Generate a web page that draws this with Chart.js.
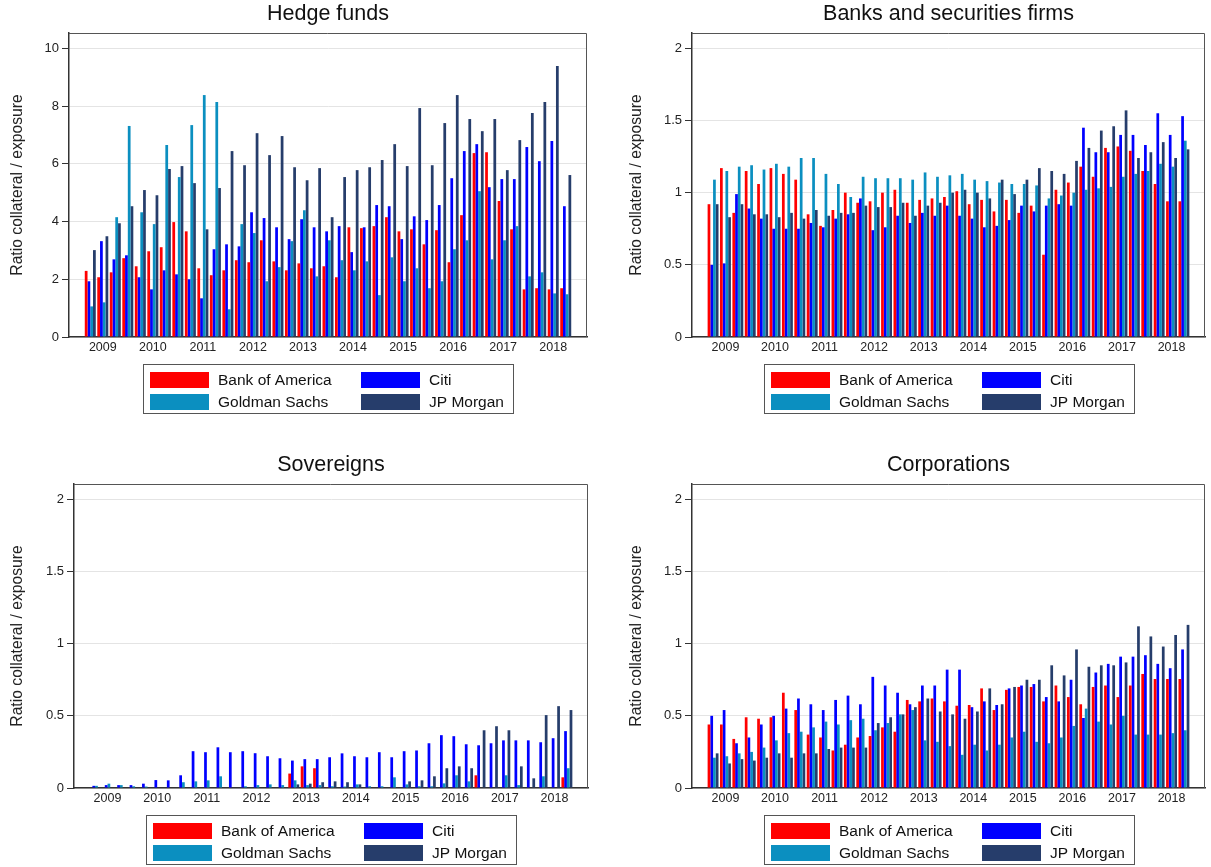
<!DOCTYPE html>
<html>
<head>
<meta charset="utf-8">
<script src="https://cdn.jsdelivr.net/npm/chart.js@4/dist/chart.umd.min.js"></script>
<style>
html,body{margin:0;padding:0;background:#fff;width:1211px;height:867px;overflow:hidden}
.p{position:absolute}
</style>
</head>
<body>
<div class="p" style="left:0;top:0;width:605px;height:451px"><canvas id="c0"></canvas></div>
<div class="p" style="left:605px;top:0;width:606px;height:451px"><canvas id="c1"></canvas></div>
<div class="p" style="left:0;top:451px;width:605px;height:416px"><canvas id="c2"></canvas></div>
<div class="p" style="left:605px;top:451px;width:606px;height:416px"><canvas id="c3"></canvas></div>
<script>
// ---------- DATA ----------
const quarters = ['2008q4','2009q1','2009q2','2009q3','2009q4','2010q1','2010q2','2010q3','2010q4',
  '2011q1','2011q2','2011q3','2011q4','2012q1','2012q2','2012q3','2012q4','2013q1','2013q2','2013q3','2013q4',
  '2014q1','2014q2','2014q3','2014q4','2015q1','2015q2','2015q3','2015q4','2016q1','2016q2','2016q3','2016q4',
  '2017q1','2017q2','2017q3','2017q4','2018q1','2018q2'];
const seriesNames = ['Bank of America','Citi','Goldman Sachs','JP Morgan'];
const panelTitles = ['Hedge funds','Banks and securities firms','Sovereigns','Corporations'];
const yAxisTitle = 'Ratio collateral / exposure';
const hedgeTicks = [0,2,4,6,8,10];
const ratioTicks = [0,0.5,1,1.5,2];

// Hedge funds
const hfBoA  = [2.29,2.07,2.24,2.73,2.45,2.97,3.11,3.98,3.66,2.38,2.14,2.31,2.66,2.59,3.35,2.62,2.31,2.55,2.38,2.45,2.07,3.80,3.77,3.84,4.15,3.66,3.73,3.21,3.70,2.59,4.22,6.37,6.40,4.71,3.73,1.65,1.69,1.65,1.69];
const hfCiti = [1.93,3.32,2.69,2.83,2.07,1.65,2.31,2.17,2.00,1.34,3.04,3.21,3.14,4.32,4.12,3.80,3.39,4.08,3.80,3.66,3.84,2.94,3.80,4.57,4.53,3.39,4.18,4.05,4.57,5.50,6.44,6.68,5.19,5.47,5.47,6.58,6.09,6.79,4.53];
const hfGS   = [1.06,1.20,4.15,7.31,4.32,3.91,6.65,5.54,7.34,8.38,8.14,0.96,3.91,3.60,1.93,2.42,3.32,4.39,2.10,3.35,2.66,2.31,2.62,1.45,2.76,1.93,2.38,1.69,1.93,3.04,3.35,5.05,2.69,3.35,3.84,2.10,2.24,1.51,1.48];
const hfJPM  = [3.01,3.49,3.94,4.53,5.09,4.91,5.82,5.92,5.33,3.73,5.16,6.44,5.95,7.06,6.30,6.96,5.88,5.43,5.85,4.15,5.54,5.78,5.88,6.13,6.68,5.92,7.93,5.95,7.41,8.38,7.55,7.13,7.55,5.78,6.82,7.76,8.14,9.39,5.61];

// Banks and securities firms
const bkBoA  = [0.92,1.17,0.86,1.15,1.06,1.17,1.13,1.09,0.85,0.77,0.88,1.00,0.93,0.94,1.00,1.02,0.93,0.95,0.96,0.97,1.01,0.92,0.95,0.87,0.95,0.86,0.91,0.57,1.02,1.07,1.18,1.11,1.31,1.32,1.29,1.15,1.06,0.94,0.94];
const bkCiti = [0.50,0.51,0.99,0.89,0.82,0.75,0.75,0.75,0.79,0.76,0.82,0.85,0.96,0.74,0.76,0.84,0.79,0.86,0.84,0.91,0.84,0.82,0.76,0.77,0.81,0.91,0.87,0.91,0.92,0.91,1.45,1.28,1.28,1.40,1.40,1.33,1.55,1.40,1.53];
const bkGS   = [1.09,1.15,1.18,1.19,1.16,1.20,1.18,1.24,1.24,1.13,1.06,0.97,1.11,1.10,1.10,1.10,1.09,1.14,1.11,1.12,1.13,1.09,1.08,1.07,1.06,1.06,1.05,0.96,0.98,1.00,1.02,1.03,1.04,1.11,1.13,1.15,1.20,1.18,1.36];
const bkJPM  = [0.92,0.83,0.92,0.85,0.85,0.83,0.86,0.82,0.88,0.84,0.86,0.86,0.91,0.90,0.90,0.93,0.84,0.91,0.93,1.00,1.02,1.00,0.96,1.09,0.99,1.09,1.17,1.15,1.13,1.22,1.31,1.43,1.46,1.57,1.24,1.28,1.35,1.24,1.30];

// Sovereigns
const svBoA  = [0,0,0,0,0,0,0,0,0,0,0,0,0,0,0,0,0.10,0.15,0.137,0.005,0,0,0,0,0,0,0,0,0,0,0,0.088,0,0,0,0,0,0,0.074];
const svCiti = [0.015,0.02,0.02,0.02,0.03,0.055,0.053,0.088,0.255,0.248,0.282,0.248,0.255,0.241,0.22,0.206,0.19,0.20,0.20,0.213,0.24,0.22,0.213,0.248,0.213,0.255,0.26,0.31,0.366,0.359,0.303,0.296,0.31,0.33,0.33,0.33,0.317,0.345,0.394];
const svGS   = [0.015,0.03,0.02,0.012,0.01,0,0,0.04,0.046,0.053,0.081,0,0.012,0.02,0.025,0.02,0.053,0.02,0.02,0.012,0.01,0.025,0.012,0.012,0.074,0.025,0.012,0.012,0.032,0.088,0.046,0,0,0.088,0.02,0,0.081,0,0.137];
const svJPM  = [0,0,0,0,0,0,0,0,0,0,0,0,0,0,0,0,0.025,0.03,0.04,0.046,0.04,0.025,0,0,0,0.046,0.053,0.081,0.137,0.15,0.137,0.40,0.428,0.40,0.15,0.067,0.505,0.567,0.54];

// Corporations
const cpBoA  = [0.44,0.44,0.34,0.49,0.48,0.49,0.66,0.54,0.37,0.35,0.26,0.30,0.35,0.36,0.42,0.39,0.61,0.60,0.62,0.60,0.57,0.575,0.69,0.54,0.68,0.70,0.70,0.60,0.71,0.63,0.58,0.70,0.71,0.63,0.71,0.79,0.755,0.755,0.755];
const cpCiti = [0.50,0.54,0.31,0.35,0.44,0.50,0.55,0.62,0.58,0.54,0.61,0.64,0.58,0.77,0.71,0.66,0.58,0.71,0.71,0.82,0.82,0.56,0.60,0.575,0.69,0.71,0.72,0.63,0.60,0.75,0.485,0.80,0.86,0.91,0.91,0.92,0.86,0.83,0.96];
const cpGS   = [0.21,0.22,0.24,0.25,0.28,0.33,0.38,0.39,0.42,0.46,0.44,0.47,0.48,0.40,0.45,0.51,0.54,0.33,0.32,0.29,0.23,0.30,0.26,0.30,0.35,0.39,0.32,0.31,0.35,0.43,0.55,0.46,0.44,0.50,0.37,0.37,0.37,0.38,0.40];
const cpJPM  = [0.24,0.17,0.20,0.19,0.21,0.24,0.21,0.24,0.24,0.27,0.28,0.28,0.28,0.45,0.49,0.51,0.56,0.62,0.53,0.51,0.48,0.53,0.69,0.58,0.70,0.75,0.75,0.85,0.78,0.96,0.84,0.85,0.85,0.87,1.12,1.05,0.98,1.06,1.13];

// ---------- STYLE ----------
const colors = ['#ff0000','#0000ff','#0b8fc0','#263d6b'];
const FONT = '"Liberation Sans", Arial, Helvetica, sans-serif';
Chart.defaults.font.family = FONT;
Chart.defaults.color = '#222';

const frameLegend = {
  id: 'frameLegend',
  afterDatasetsDraw(chart) {
    const {ctx, chartArea: a} = chart;
    ctx.save();
    ctx.strokeStyle = '#555';
    ctx.lineWidth = 1;
    ctx.beginPath();
    ctx.moveTo(a.left, Math.round(a.top) + 0.5);
    ctx.lineTo(Math.round(a.right) - 0.5, Math.round(a.top) + 0.5);
    ctx.lineTo(Math.round(a.right) - 0.5, a.bottom);
    ctx.stroke();
    ctx.restore();
  },
  afterDraw(chart) {
    const {ctx, chartArea: a} = chart;
    const w = 370, h = 49;
    const x0 = Math.round((a.left + a.right) / 2 - w / 2) + 0.5;
    const y0 = Math.round(a.bottom) + 27 + 0.5;
    ctx.save();
    ctx.strokeStyle = '#555';
    ctx.lineWidth = 1;
    ctx.strokeRect(x0, y0, w, h);
    ctx.font = '15.5px ' + FONT;
    ctx.textBaseline = 'middle';
    ctx.textAlign = 'left';
    chart.data.datasets.forEach((ds, i) => {
      const col = i % 2, row = Math.floor(i / 2);
      const sx = Math.round(x0 + 6 + col * 211), sy = Math.round(y0 + 7 + row * 22);
      ctx.fillStyle = ds.backgroundColor;
      ctx.fillRect(sx, sy, 59, 16);
      ctx.fillStyle = '#111';
      ctx.fillText(ds.label, sx + 68, sy + 8.5);
    });
    ctx.restore();
  }
};

function makePanel(id, title, series, yTicks, yMax, layout) {
  const yearIdx = quarters.map((q, i) => q.endsWith('q1') ? i : -1).filter(i => i >= 0);
  new Chart(document.getElementById(id), {
    type: 'bar',
    data: {
      datasets: series.map((vals, k) => ({
        label: seriesNames[k],
        data: vals.map((v, i) => ({x: i, y: v})),
        backgroundColor: colors[k],
        borderWidth: 0,
        categoryPercentage: 0.88,
        barPercentage: 1.0
      }))
    },
    options: {
      responsive: true,
      maintainAspectRatio: false,
      devicePixelRatio: 1,
      animation: false,
      layout: {padding: {left: layout.padLeft, right: layout.padRight, top: 0, bottom: layout.padBottom}},
      plugins: {
        legend: {display: false},
        tooltip: {enabled: false},
        title: {display: true, text: title, color: '#111', fullSize: false,
          font: {size: 21.5, weight: 'normal', lineHeight: 1.2},
          padding: {top: 1, bottom: 6.2}}
      },
      scales: {
        x: {
          type: 'linear', min: -1.7, max: 39.7, offset: false,
          afterBuildTicks: s => { s.ticks = yearIdx.map(v => ({value: v})); },
          afterFit: s => { s.height = 20; },
          ticks: {autoSkip: false, maxRotation: 0, padding: 3, color: '#222',
            font: {size: 12.5},
            callback: v => quarters[v] ? quarters[v].slice(0, 4) : ''},
          grid: {display: false, drawTicks: false, offset: false},
          border: {display: true, color: '#333', width: 1.5}
        },
        y: {
          type: 'linear', min: 0, max: yMax,
          afterBuildTicks: s => { s.ticks = yTicks.map(v => ({value: v})); },
          afterFit: s => { s.width = layout.yWidth; },
          ticks: {padding: 3, color: '#222', font: {size: 13}, callback: v => String(v)},
          grid: {color: '#e4e4e4', lineWidth: 1, drawTicks: true, tickLength: 7, tickColor: '#333', tickWidth: 1},
          border: {display: true, color: '#333', width: 1.5},
          title: {display: true, text: yAxisTitle, color: '#222', font: {size: 15.7},
            padding: {top: 8, bottom: 0}}
        }
      }
    },
    plugins: [frameLegend]
  });
}

makePanel('c0', panelTitles[0], [hfBoA, hfCiti, hfGS, hfJPM], hedgeTicks, 10.53,
  {padLeft: 0, yWidth: 69, padRight: 18, padBottom: 94});
makePanel('c1', panelTitles[1], [bkBoA, bkCiti, bkGS, bkJPM], ratioTicks, 2.106,
  {padLeft: 14, yWidth: 73, padRight: 6, padBottom: 94});
makePanel('c2', panelTitles[2], [svBoA, svCiti, svGS, svJPM], ratioTicks, 2.106,
  {padLeft: 0, yWidth: 74, padRight: 17, padBottom: 59});
makePanel('c3', panelTitles[3], [cpBoA, cpCiti, cpGS, cpJPM], ratioTicks, 2.106,
  {padLeft: 14, yWidth: 73, padRight: 6, padBottom: 59});
</script>
</body>
</html>
